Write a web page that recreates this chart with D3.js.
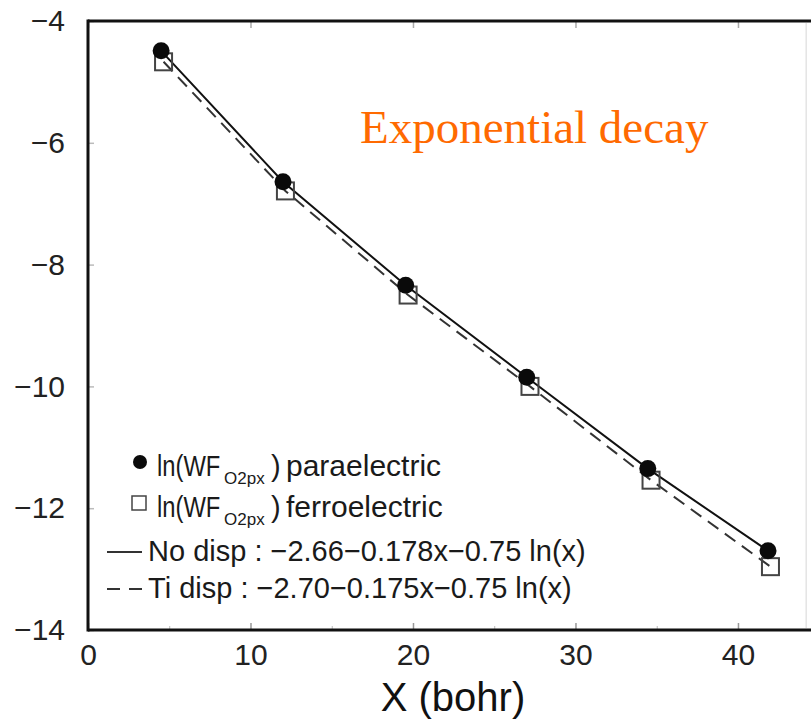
<!DOCTYPE html>
<html>
<head>
<meta charset="utf-8">
<script src="https://cdn.jsdelivr.net/npm/d3@7"></script>
<style>
  body { margin: 0; background: #fff; }
  svg { display: block; font-family: "Liberation Sans", Arial, sans-serif; }
</style>
</head>
<body>
<div id="chart"></div>
<script>
// values
var xPara = [4.5, 12.0, 19.55, 27.0, 34.45, 41.85];
var yPara = [-4.49, -6.64, -8.34, -9.85, -11.35, -12.70];
var xFerro = [4.65, 12.15, 19.7, 27.2, 34.65, 42.0];
var yFerro = [-4.67, -6.79, -8.50, -10.0, -11.54, -12.96];
var xTicks = [0, 10, 20, 30, 40];
var xMinor = [5, 15, 25, 35];
var yTicks = [-14, -12, -10, -8, -6, -4];
var legendRows = [
  {kind: "circle", pre: "ln(WF", sub: "O2px", post: ")", name: "paraelectric"},
  {kind: "square", pre: "ln(WF", sub: "O2px", post: ")", name: "ferroelectric"},
  {kind: "solid", text: "No disp : \u22122.66\u22120.178x\u22120.75 ln(x)"},
  {kind: "dash", text: "Ti disp : \u22122.70\u22120.175x\u22120.75 ln(x)"}
];
var title = "Exponential decay";

var width = 811, height = 720;
var margin = {top: 21, left: 88, right: 3, bottom: 90};

var svg = d3.select("#chart").append("svg")
    .attr("width", width)
    .attr("height", height);

var x = d3.scaleLinear().domain([0, 44.31]).range([margin.left, width - margin.right]);
var y = d3.scaleLinear().domain([-14, -4]).range([height - margin.bottom, margin.top]);

var para = xPara.map(function(v, i){ return {x: v, y: yPara[i]}; });
var ferro = xFerro.map(function(v, i){ return {x: v, y: yFerro[i]}; });

// axes, ticks point inward
var xAxis = svg.append("g")
    .attr("transform", "translate(0," + y(-14) + ")")
    .call(d3.axisBottom(x).tickValues(xTicks).tickSizeInner(-7).tickSizeOuter(0).tickPadding(14));
xAxis.select(".domain").remove();
xAxis.selectAll("line").attr("stroke", "#999").attr("stroke-width", 1.5);
xAxis.selectAll("text").style("font-size", "30px").attr("fill", "#222");

svg.append("g")
    .attr("transform", "translate(0," + y(-14) + ")")
    .call(d3.axisBottom(x).tickValues(xMinor).tickSizeInner(-4).tickSizeOuter(0).tickFormat(""))
    .call(function(g){ g.select(".domain").remove(); g.selectAll("line").attr("stroke", "#bbb"); });

svg.append("g")
    .attr("transform", "translate(0," + y(-4) + ")")
    .call(d3.axisTop(x).tickValues(xTicks).tickSizeInner(-7).tickSizeOuter(0).tickFormat(""))
    .call(function(g){ g.select(".domain").remove(); g.selectAll("line").attr("stroke", "#aaa").attr("stroke-width", 1.5); });

var yAxis = svg.append("g")
    .attr("transform", "translate(" + x(0) + ",0)")
    .call(d3.axisLeft(y).tickValues(yTicks).tickSizeInner(-6).tickSizeOuter(0).tickPadding(23));
yAxis.select(".domain").remove();
yAxis.selectAll("line").attr("stroke", "#bbb").attr("stroke-width", 1.5);
yAxis.selectAll("text").style("font-size", "30px").attr("fill", "#222");

// frame
svg.append("line").attr("x1", x(0)).attr("x2", width).attr("y1", y(-4)).attr("y2", y(-4))
  .attr("stroke", "#111").attr("stroke-width", 3);
svg.append("line").attr("x1", x(0)).attr("x2", width).attr("y1", y(-14)).attr("y2", y(-14))
  .attr("stroke", "#111").attr("stroke-width", 3);
svg.append("line").attr("x1", x(0)).attr("x2", x(0)).attr("y1", y(-4) - 1.5).attr("y2", y(-14) + 1.5)
  .attr("stroke", "#111").attr("stroke-width", 3);
svg.append("line").attr("x1", x(44.2)).attr("x2", x(44.2)).attr("y1", y(-4) + 2).attr("y2", y(-14) - 2)
  .attr("stroke", "#e4e4e4").attr("stroke-width", 1.5);

// fit lines
var line = d3.line().x(function(d){ return x(d.x); }).y(function(d){ return y(d.y); });
svg.append("path").datum(ferro).attr("d", line)
  .attr("fill", "none").attr("stroke", "#333").attr("stroke-width", 2)
  .attr("stroke-dasharray", "13,8");
svg.append("path").datum(para).attr("d", line)
  .attr("fill", "none").attr("stroke", "#111").attr("stroke-width", 2);

// markers
svg.selectAll("rect.ferro").data(ferro).enter().append("rect")
  .attr("class", "ferro")
  .attr("x", function(d){ return x(d.x) - 8.5; })
  .attr("y", function(d){ return y(d.y) - 8.5; })
  .attr("width", 17).attr("height", 17)
  .attr("fill", "none").attr("stroke", "#444").attr("stroke-width", 2);
svg.selectAll("circle.para").data(para).enter().append("circle")
  .attr("class", "para")
  .attr("cx", function(d){ return x(d.x); })
  .attr("cy", function(d){ return y(d.y); })
  .attr("r", 8.5).attr("fill", "#0a0a0a");

// title text
svg.append("text").attr("x", 360).attr("y", 143)
  .style("font-family", "'Liberation Serif', 'Times New Roman', serif")
  .style("font-size", "47px").attr("fill", "#ff6a00")
  .text(title);

// legend
var rowY = [476, 517, 561, 598];
var leg = svg.append("g").attr("fill", "#1a1a1a").style("font-size", "29px");
legendRows.forEach(function(r, i){
  var by = rowY[i];
  if (r.kind == "circle") {
    leg.append("circle").attr("cx", 140).attr("cy", by - 14).attr("r", 7).attr("fill", "#0a0a0a");
  } else if (r.kind == "square") {
    leg.append("rect").attr("x", 132).attr("y", by - 21).attr("width", 14).attr("height", 14)
      .attr("fill", "none").attr("stroke", "#444").attr("stroke-width", 1.5);
  } else {
    leg.append("line").attr("x1", 107).attr("x2", 142).attr("y1", by - 9).attr("y2", by - 9)
      .attr("stroke", "#333").attr("stroke-width", 2)
      .attr("stroke-dasharray", r.kind == "dash" ? "13,9" : null);
  }
  if (r.text) {
    leg.append("text").attr("x", 148).attr("y", by).text(r.text);
  } else {
    // narrow "ln(WF" squeezed horizontally like the original
    leg.append("text").attr("transform", "translate(157," + by + ") scale(0.82,1)").text(r.pre);
    leg.append("text").attr("x", 224).attr("y", by + 8)
      .style("font-size", "17px").text(r.sub);
    leg.append("text").attr("x", 271).attr("y", by).text(r.post);
    leg.append("text").attr("x", 286).attr("y", by).style("font-size", "30px").text(r.name);
  }
});

// axis title
svg.append("text").attr("x", 453).attr("y", 711)
  .attr("text-anchor", "middle").style("font-size", "40px").attr("fill", "#111")
  .text("X (bohr)");
</script>
</body>
</html>
